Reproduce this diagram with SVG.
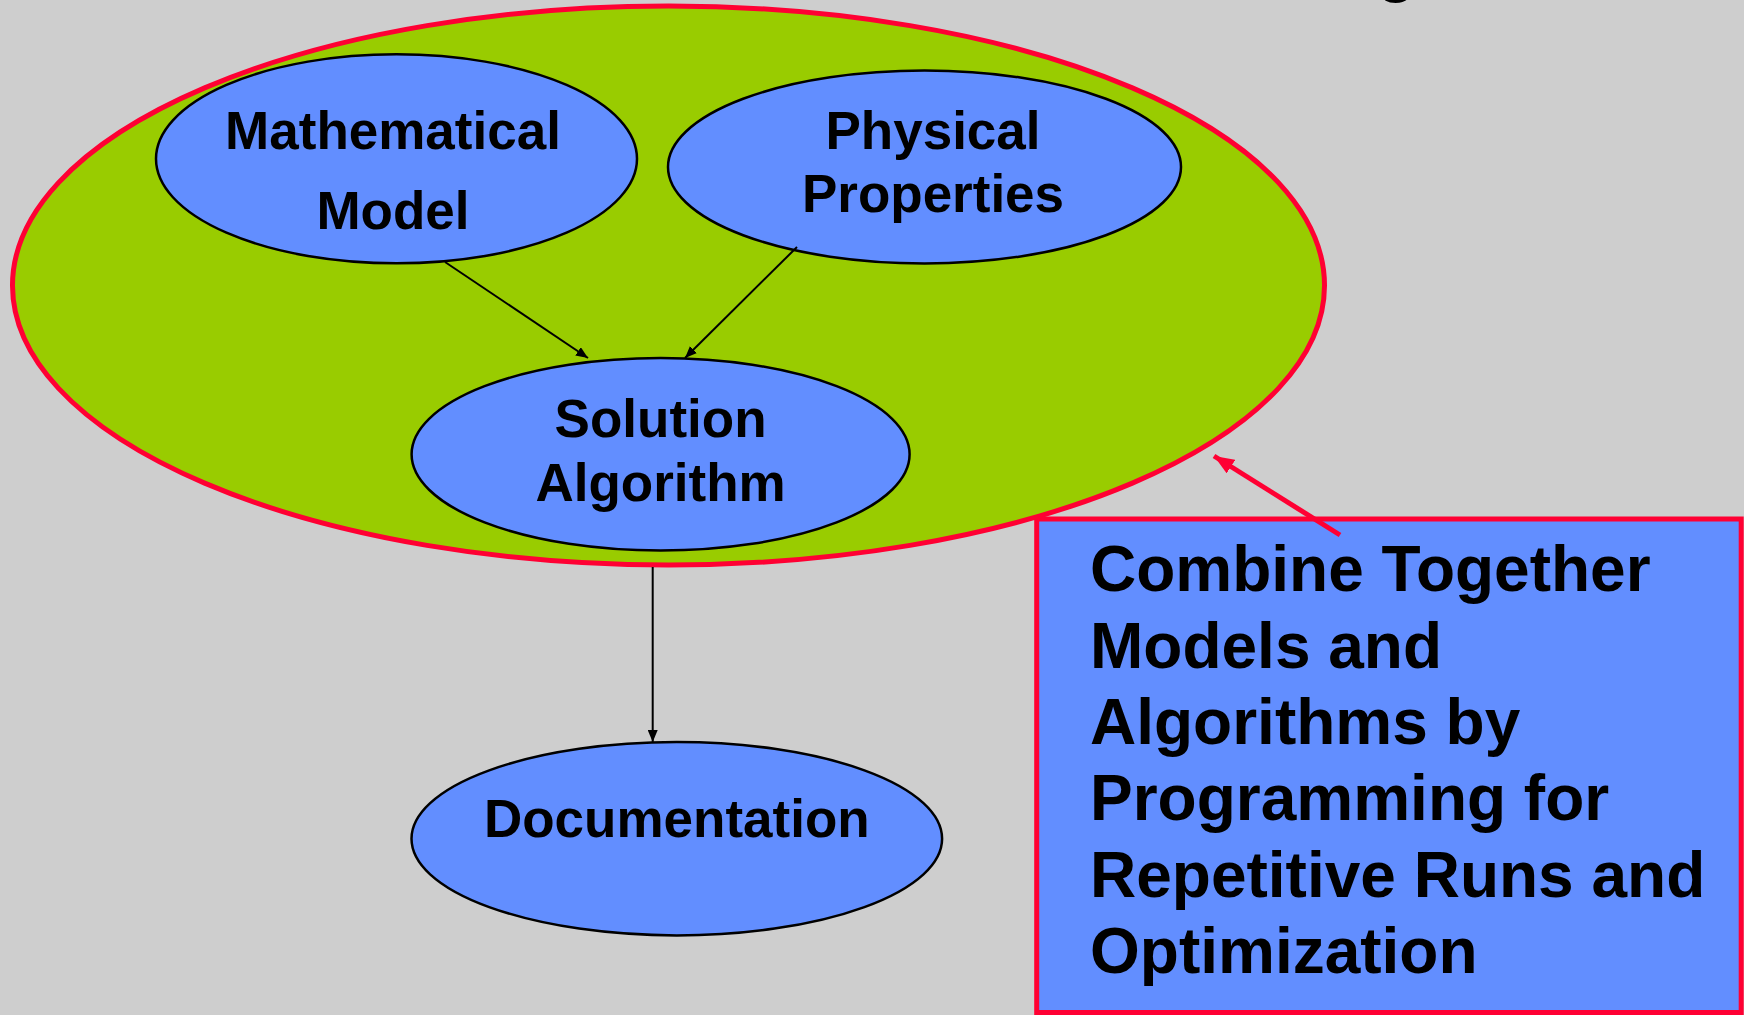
<svg xmlns="http://www.w3.org/2000/svg" width="1744" height="1015" viewBox="0 0 1744 1015">
<defs>
<style>
.node{fill:#628EFF;stroke:#000;stroke-width:2.5}
.lbl{font-family:"Liberation Sans",Arial,sans-serif;font-weight:bold;font-size:53px;fill:#000;text-anchor:middle}
.big{font-family:"Liberation Sans",Arial,sans-serif;font-weight:bold;font-size:64px;fill:#000}
.conn{stroke:#000;stroke-width:2;fill:none}
</style>
<marker id="ah" markerWidth="12" markerHeight="10" refX="12" refY="5" orient="auto" markerUnits="userSpaceOnUse">
<path d="M0,0 L12,5 L0,10 Z" fill="#000"/>
</marker>
<marker id="ahr" markerWidth="20" markerHeight="16" refX="20" refY="8" orient="auto" markerUnits="userSpaceOnUse">
<path d="M0,0 L20,8 L0,16 Z" fill="#FF0033"/>
</marker>
</defs>
<rect x="0" y="0" width="1744" height="1015" fill="#CECECE"/>
<text class="big" x="1377" y="-10">g</text>
<g id="combined">
<ellipse cx="668.5" cy="285.5" rx="656" ry="279.5" fill="#99CC00" stroke="#FF0033" stroke-width="5"/>
</g>
<g id="math-model">
<ellipse class="node" cx="396.5" cy="158.8" rx="240.5" ry="104.5"/>
<text class="lbl" x="393" y="149">Mathematical</text>
<text class="lbl" x="393" y="229">Model</text>
</g>
<g id="physical-properties">
<ellipse class="node" cx="924.5" cy="167" rx="256.5" ry="96.5"/>
<text class="lbl" x="933" y="149">Physical</text>
<text class="lbl" x="933" y="212">Properties</text>
</g>
<g id="solution-algorithm">
<ellipse class="node" cx="660.6" cy="454.3" rx="249" ry="96.3"/>
<text class="lbl" x="660.6" y="437">Solution</text>
<text class="lbl" x="660.6" y="500.5">Algorithm</text>
</g>
<g id="documentation">
<ellipse class="node" cx="676.8" cy="838.7" rx="265.3" ry="96.7"/>
<text class="lbl" x="676.8" y="836.5">Documentation</text>
</g>
<g id="note">
<rect x="1036.7" y="519" width="704.5" height="493.5" fill="#628EFF" stroke="#FF0033" stroke-width="5"/>
<text class="big" x="1090" y="591">Combine Together</text>
<text class="big" x="1090" y="667.5">Models and</text>
<text class="big" x="1090" y="744">Algorithms by</text>
<text class="big" x="1090" y="820">Programming for</text>
<text class="big" x="1090" y="896.5">Repetitive Runs and</text>
<text class="big" x="1090" y="973">Optimization</text>
</g>
<g id="connectors">
<line class="conn" x1="445" y1="262" x2="588" y2="358" marker-end="url(#ah)"/>
<line class="conn" x1="797" y1="247" x2="685" y2="358" marker-end="url(#ah)"/>
<line class="conn" x1="652.7" y1="567" x2="652.7" y2="742" marker-end="url(#ah)"/>
<line x1="1340" y1="535" x2="1214" y2="456" stroke="#FF0033" stroke-width="5" marker-end="url(#ahr)"/>
</g>
</svg>
